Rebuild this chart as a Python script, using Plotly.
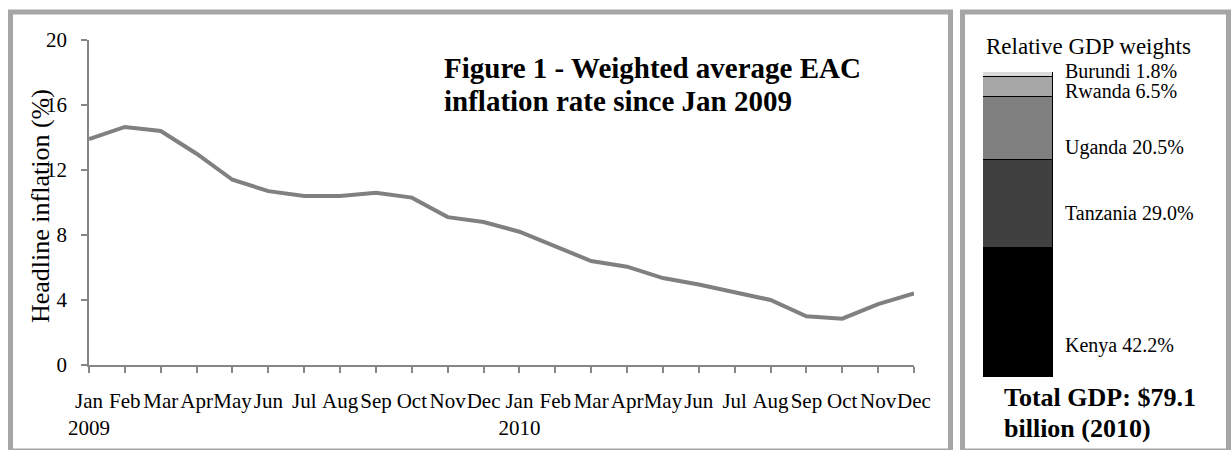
import plotly.graph_objects as go

# ---- data ----
months = ["Jan", "Feb", "Mar", "Apr", "May", "Jun", "Jul", "Aug", "Sep", "Oct", "Nov", "Dec"]
years = ["2009", "2010"]
inflation = [13.9, 14.65, 14.4, 13.0, 11.4, 10.7, 10.4, 10.4, 10.6, 10.3, 9.1, 8.8,
             8.2, 7.3, 6.4, 6.05, 5.35, 4.95, 4.5, 4.0, 3.0, 2.85, 3.75, 4.4]
y_ticks = [0, 4, 8, 12, 16, 20]

countries = ["Kenya", "Tanzania", "Uganda", "Rwanda", "Burundi"]
gdp_share = [42.2, 29.0, 20.5, 6.5, 1.8]
total_gdp_bn = 79.1
gdp_year = 2010

# ---- styling ----
W, H = 1231, 450
FONT = "Liberation Serif"
seg_colors = ["#000000", "#404040", "#808080", "#a6a6a6", "#d9d9d9"]
label_px = [345, 213, 147, 91, 71]   # vertical pixel centres of the share labels
frame_col = "#a6a6a6"
axis_col = "#868686"


def px(x):
    return x / W


def py(y):
    return 1 - y / H


tick_text = []
for yi, yr in enumerate(years):
    for mi, m in enumerate(months):
        tick_text.append(f"{m}<br>{yr}" if mi == 0 else m)
x_idx = list(range(len(inflation)))

fig = go.Figure()

fig.add_trace(go.Scatter(
    x=x_idx, y=inflation, mode="lines",
    line=dict(color="#808080", width=4),
    cliponaxis=False, showlegend=False, xaxis="x", yaxis="y",
))

for name, share, col in zip(countries, gdp_share, seg_colors):
    fig.add_trace(go.Bar(
        x=[0], y=[share], name=name, width=1,
        marker=dict(color=col, line=dict(color="black", width=1.5)),
        showlegend=False, xaxis="x2", yaxis="y2",
    ))

fig.update_layout(
    width=W, height=H, autosize=False,
    margin=dict(l=0, r=0, t=0, b=0, pad=0, autoexpand=False),
    paper_bgcolor="white", plot_bgcolor="white",
    barmode="stack", bargap=0,
    font=dict(family=FONT, color="black"),
    xaxis=dict(
        domain=[px(89), px(914)], range=[0, len(inflation) - 1],
        tickvals=x_idx, ticktext=tick_text, tickangle=0,
        tickfont=dict(family=FONT, size=21, color="black"),
        ticks="outside", ticklen=6, tickcolor=axis_col, tickwidth=1.5,
        ticklabelstandoff=10,
        showline=True, linecolor=axis_col, linewidth=1.5,
        showgrid=False, zeroline=False, anchor="y", automargin=False,
    ),
    yaxis=dict(
        domain=[py(365), py(40)], range=[0, 20],
        tickvals=y_ticks,
        tickfont=dict(family=FONT, size=21, color="black"),
        ticks="outside", ticklen=6, tickcolor=axis_col, tickwidth=1.5,
        ticklabelstandoff=10,
        showline=True, linecolor=axis_col, linewidth=1.5,
        showgrid=False, zeroline=False, anchor="x", automargin=False,
    ),
    xaxis2=dict(
        domain=[px(983), px(1053)], range=[-0.5, 0.5],
        visible=False, anchor="y2",
    ),
    yaxis2=dict(
        domain=[py(377), py(72)], range=[0, 100],
        visible=False, anchor="x2",
    ),
)

# panel frames
for x0, x1 in [(10.5, 950.5), (962.5, 1228.5)]:
    fig.add_shape(type="rect", xref="paper", yref="paper",
                  x0=px(x0), x1=px(x1), y0=py(451), y1=py(12),
                  line=dict(color=frame_col, width=5), layer="below")

annots = []
# chart title
annots.append(dict(text="<b>Figure 1 - Weighted average EAC</b>", x=px(442), y=py(68),
                   xanchor="left", yanchor="middle", font=dict(size=29)))
annots.append(dict(text="<b>inflation rate since Jan 2009</b>", x=px(442), y=py(101),
                   xanchor="left", yanchor="middle", font=dict(size=29)))
# y-axis title
annots.append(dict(text="Headline inflation (%)", x=px(40), y=py(206), textangle=-90,
                   xanchor="center", yanchor="middle", font=dict(size=26)))
# weights panel
annots.append(dict(text="Relative GDP weights", x=px(1088), y=py(46),
                   xanchor="center", yanchor="middle", font=dict(size=23)))
for name, share, ly in zip(countries, gdp_share, label_px):
    annots.append(dict(text=f"{name} {share:.1f}%", x=px(1063), y=py(ly),
                       xanchor="left", yanchor="middle", font=dict(size=20)))
annots.append(dict(text=f"<b>Total GDP: ${total_gdp_bn}</b>", x=px(1002), y=py(397),
                   xanchor="left", yanchor="middle", font=dict(size=26)))
annots.append(dict(text=f"<b>billion ({gdp_year})</b>", x=px(1002), y=py(428),
                   xanchor="left", yanchor="middle", font=dict(size=26)))

for a in annots:
    a.setdefault("xref", "paper")
    a.setdefault("yref", "paper")
    a["showarrow"] = False
    a["font"] = dict(family=FONT, color="black", **a["font"])
fig.update_layout(annotations=annots)

fig.write_html("out.html")
